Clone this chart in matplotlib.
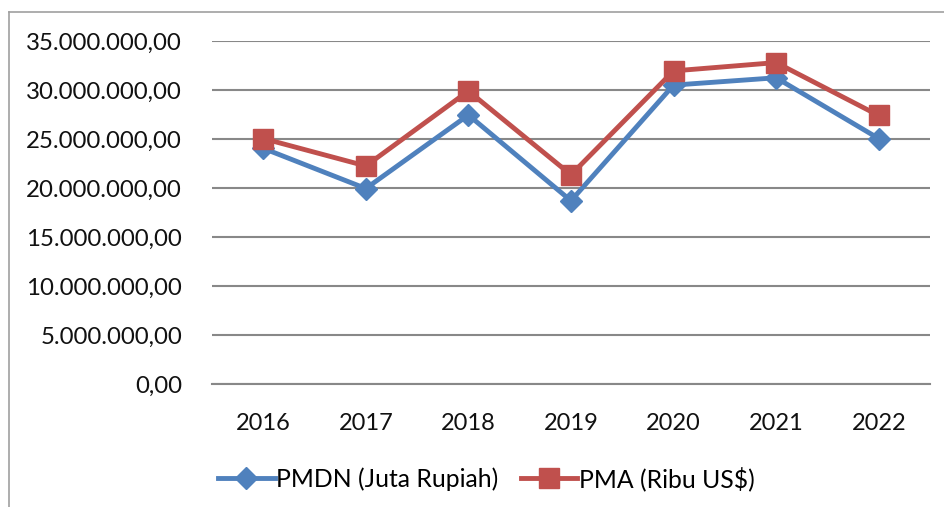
import matplotlib
matplotlib.use("Agg")
import matplotlib.pyplot as plt
from matplotlib.lines import Line2D
from matplotlib.ticker import FuncFormatter

# data
years = ["2016", "2017", "2018", "2019", "2020", "2021", "2022"]
pmdn = [24.05e6, 19.95e6, 27.45e6, 18.7e6, 30.5e6, 31.25e6, 25.05e6]
pma = [25.05e6, 22.25e6, 29.9e6, 21.35e6, 31.95e6, 32.8e6, 27.4e6]
series_names = ["PMDN (Juta Rupiah)", "PMA (Ribu US$)"]

BLUE = "#4F81BD"
RED = "#C0504D"
GRID = "#888888"

plt.rcParams["font.family"] = ["Lato", "DejaVu Sans"]

fig = plt.figure(figsize=(9.45, 5.07), dpi=100)
ax = fig.add_axes([0.2243, 0.2426, 0.7598, 0.6765])

# outer frame of the chart (left + top edges visible)
fig.add_artist(Line2D([9.5 / 945, 9.5 / 945], [0, 1 - 11.5 / 507],
                      transform=fig.transFigure, color="#A0A0A0", lw=1.2))
fig.add_artist(Line2D([9.5 / 945, 1], [1 - 11.5 / 507, 1 - 11.5 / 507],
                      transform=fig.transFigure, color="#A0A0A0", lw=1.2))

x = list(range(len(years)))
ax.plot(x, pmdn, color=BLUE, lw=3.5, marker="D", markersize=11,
        label=series_names[0], zorder=3)
ax.plot(x, pma, color=RED, lw=3.5, marker="s", markersize=14,
        label=series_names[1], zorder=4)

ax.set_xlim(-0.5, len(years) - 0.5)
ax.set_ylim(0, 35e6)
ax.set_yticks([i * 5e6 for i in range(8)])
ax.yaxis.set_major_formatter(FuncFormatter(
    lambda v, p: f"{v:,.2f}".replace(",", "X").replace(".", ",").replace("X", ".")))
ax.set_xticks(x)
ax.set_xticklabels(years)

ax.grid(axis="y", color=GRID, lw=1.5)
ax.set_axisbelow(True)
for s in ["left", "right", "top"]:
    ax.spines[s].set_visible(False)
ax.spines["bottom"].set_color(GRID)
ax.spines["bottom"].set_linewidth(1.5)
ax.tick_params(axis="y", length=0, labelsize=17.3, colors="#111111", pad=21.5)
ax.tick_params(axis="x", length=0, labelsize=17, colors="#111111", pad=21)

ax.legend(loc="upper center", bbox_to_anchor=(0.382, -0.175), ncol=2,
          frameon=False, fontsize=17.8, handlelength=2.3, handletextpad=0.05,
          columnspacing=0.9)

fig.savefig("out.png", dpi=100)
